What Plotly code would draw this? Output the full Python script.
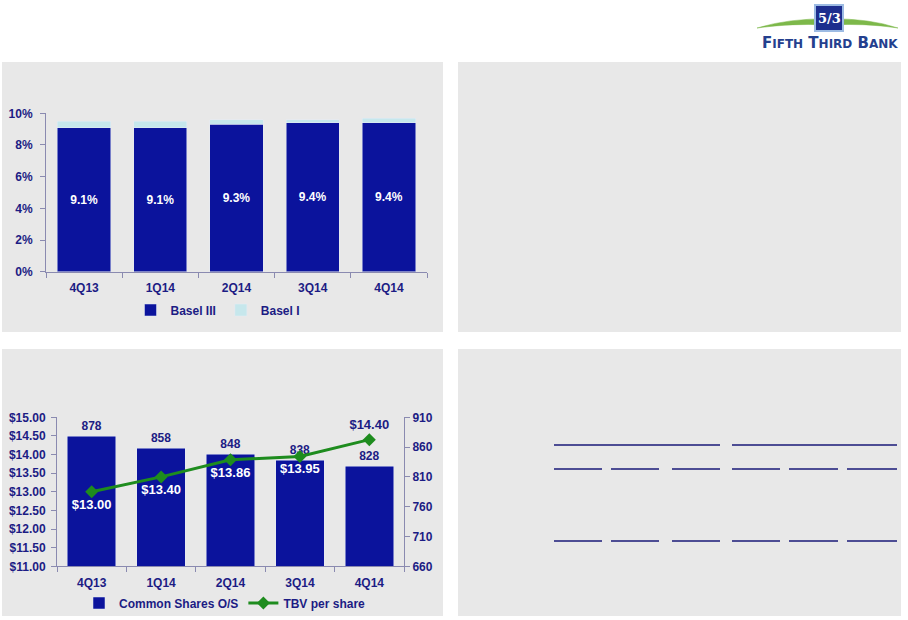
import plotly.graph_objects as go

# ---- data ----
quarters = ["4Q13", "1Q14", "2Q14", "3Q14", "4Q14"]
basel3 = [9.1, 9.1, 9.3, 9.4, 9.4]          # Basel III (%)
basel1_extra = [0.4, 0.4, 0.3, 0.2, 0.3]    # Basel I on top of Basel III (%)
shares = [878, 858, 848, 838, 828]          # common shares O/S (mm)
tbv = [13.00, 13.40, 13.86, 13.95, 14.40]   # tangible book value per share

pct_ticks = [0, 2, 4, 6, 8, 10]
usd_ticks = [11.0, 11.5, 12.0, 12.5, 13.0, 13.5, 14.0, 14.5, 15.0]
share_ticks = [660, 710, 760, 810, 860, 910]

W, H = 908, 620
NAVY = "#0B139C"
TXT = "#1C1C84"
LIGHT = "#C6E7EC"
GREEN = "#1E8C1E"
AXIS = "#8A8AB0"
PANEL = "#E8E8E8"
FONT = "Liberation Sans, Arial, sans-serif"


def px(x):
    return x / W


def py(y):
    return 1 - y / H


bold = dict(family=FONT, size=12, color=TXT, weight="bold")
white_bold = dict(family=FONT, size=12, color="white", weight="bold")

fig = go.Figure()

# top chart: capital ratio
fig.add_trace(go.Bar(
    x=quarters, y=basel3, name="Basel III", marker_color=NAVY, width=0.7,
    text=[f"{v:.1f}%" for v in basel3], textposition="inside",
    insidetextanchor="middle", textfont=white_bold, legend="legend",
    xaxis="x", yaxis="y", hoverinfo="skip"))
fig.add_trace(go.Bar(
    x=quarters, y=basel1_extra, name="Basel I", marker_color=LIGHT, width=0.7,
    legend="legend", xaxis="x", yaxis="y", hoverinfo="skip"))

# bottom chart: shares (right axis) and TBV (left axis, drawn on top)
fig.add_trace(go.Bar(
    x=quarters, y=shares, name="Common Shares O/S", marker_color=NAVY,
    width=0.7, text=[str(v) for v in shares], textposition="outside",
    textfont=bold, cliponaxis=False, legend="legend2",
    xaxis="x2", yaxis="y2", hoverinfo="skip"))
fig.add_trace(go.Scatter(
    x=quarters, y=tbv, name="TBV per share", mode="lines+markers+text",
    line=dict(color=GREEN, width=3),
    marker=dict(symbol="diamond", size=10, color=GREEN),
    text=[f"${v:.2f}" for v in tbv],
    textposition=["bottom center"] * 4 + ["top center"],
    textfont=dict(family=FONT, size=13, weight="bold",
                  color=["white"] * 4 + [TXT]),
    cliponaxis=False, legend="legend2",
    xaxis="x2", yaxis="y3", hoverinfo="skip"))

axis_common = dict(showline=True, linecolor=AXIS, linewidth=1, ticks="outside",
                   tickcolor=AXIS, ticklen=5, showgrid=False, zeroline=False,
                   tickfont=bold, fixedrange=True)

# panels
shapes = []
for x0, x1, y0, y1 in [(2, 443, 62, 332), (458, 901, 62, 332),
                       (2, 443, 349, 616), (458, 901, 349, 616)]:
    shapes.append(dict(type="rect", xref="paper", yref="paper",
                       x0=px(x0), x1=px(x1), y0=py(y1), y1=py(y0),
                       fillcolor=PANEL, line_width=0, layer="below"))

# empty table rules in the bottom right panel
rules = [(445, [(554, 720), (732, 897)]),
         (469, [(554, 602), (611, 659), (672, 720), (732, 780), (789, 838), (847, 897)]),
         (541, [(554, 602), (611, 659), (672, 720), (732, 780), (789, 838), (847, 897)])]
for yy, segs in rules:
    for a, b in segs:
        shapes.append(dict(type="line", xref="paper", yref="paper",
                           x0=px(a), x1=px(b), y0=py(yy), y1=py(yy),
                           line=dict(color="#1A1A78", width=1.5)))

# logo: swoosh + square
swoosh = (f"M {px(757)},{py(28)} Q {px(790)},{py(18)} {px(829)},{py(19)} "
          f"L {px(829)},{py(25)} Q {px(792)},{py(23)} {px(757)},{py(28)} Z "
          f"M {px(829)},{py(19)} Q {px(868)},{py(18)} {px(898)},{py(28)} "
          f"Q {px(866)},{py(23)} {px(829)},{py(25)} Z")
shapes.append(dict(type="path", xref="paper", yref="paper", path=swoosh,
                   fillcolor="#7DB84A", line=dict(color="#7DB84A", width=0.5)))
shapes.append(dict(type="rect", xref="paper", yref="paper",
                   x0=px(815), x1=px(843), y0=py(31), y1=py(5),
                   fillcolor="#1D2E8E", line=dict(color="#9DBBE3", width=2)))

annotations = [
    dict(text="5/3", xref="paper", yref="paper", x=px(829), y=py(18),
         xanchor="center", yanchor="middle", showarrow=False,
         font=dict(family="DejaVu Serif", size=13, color="white",
                   weight="bold")),
    dict(text=("F<span style='font-size:12px'>IFTH</span> "
               "T<span style='font-size:12px'>HIRD</span> "
               "B<span style='font-size:12px'>ANK</span>"),
         xref="paper", yref="paper", x=px(829.5), y=py(43),
         xanchor="center", yanchor="middle", showarrow=False,
         font=dict(family="DejaVu Sans", size=15, color="#24408E",
                   weight="bold")),
]

fig.update_layout(
    width=W, height=H,
    margin=dict(l=0, r=0, t=0, b=0, pad=0, autoexpand=False),
    paper_bgcolor="white", plot_bgcolor="rgba(0,0,0,0)",
    barmode="stack", bargap=0.3, showlegend=True,
    font=dict(family=FONT, color=TXT),
    xaxis=dict(axis_common, domain=[px(46), px(427)], anchor="y",
               range=[-0.5, 4.5], tickson="boundaries", ticklabelstandoff=5),
    yaxis=dict(axis_common, domain=[py(271.7), py(113.3)], anchor="x",
               range=[0, 10], tickvals=pct_ticks, ticklabelstandoff=5,
               ticktext=[f"{v}%" for v in pct_ticks]),
    xaxis2=dict(axis_common, domain=[px(57), px(404)], anchor="y3",
                range=[-0.5, 4.5], tickson="boundaries", ticklabelstandoff=5),
    yaxis2=dict(axis_common, domain=[py(566.3), py(417.3)], anchor="x2",
                side="right", range=[660, 910], tickvals=share_ticks),
    yaxis3=dict(axis_common, overlaying="y2", anchor="x2", side="left",
                range=[11, 15], tickvals=usd_ticks, tickformat="$.2f",
                ticklabelstandoff=3),
    legend=dict(orientation="h", x=px(218), xanchor="center", y=py(310),
                yanchor="middle", font=bold, bgcolor="rgba(0,0,0,0)",
                traceorder="normal", itemclick=False),
    legend2=dict(orientation="h", x=px(225), xanchor="center", y=py(603),
                 yanchor="middle", font=bold, bgcolor="rgba(0,0,0,0)",
                 traceorder="normal", itemclick=False),
    shapes=shapes, annotations=annotations,
)

fig.write_html("out.html", config={"displayModeBar": False},
               post_script="document.body.style.margin = '0';")
